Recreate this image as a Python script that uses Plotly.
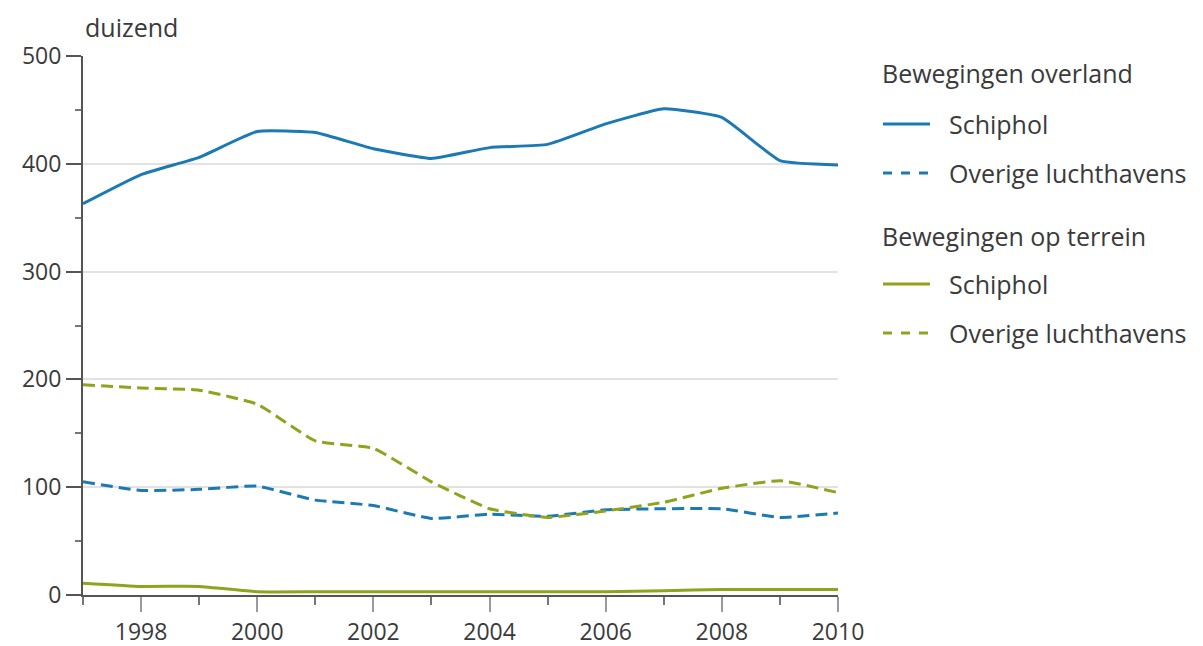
import plotly.graph_objects as go

years = list(range(1997, 2011))
overland_schiphol = [363, 390, 406, 430, 429, 414, 405, 415, 418, 437, 451, 443, 403, 399]
overland_overige = [105, 97, 98, 101, 88, 83, 71, 75, 73, 79, 80, 80, 72, 76]
terrein_schiphol = [11, 8, 8, 3, 3, 3, 3, 3, 3, 3, 4, 5, 5, 5]
terrein_overige = [195, 192, 190, 177, 143, 136, 105, 80, 72, 78, 86, 99, 106, 95]

group_titles = ["Bewegingen overland", "Bewegingen op terrein"]
series_names = ["Schiphol", "Overige luchthavens"]

BLUE = "#1b7ab3"
GREEN = "#8fa31c"
TEXT = "#3a3a3a"
FONT = "Open Sans"
TXT_SIZE = 25
TICK_SIZE = 23

series = [
    (overland_schiphol, BLUE, "solid", 0, 0),
    (overland_overige, BLUE, "12px,6px", 0, 1),
    (terrein_schiphol, GREEN, "solid", 1, 0),
    (terrein_overige, GREEN, "12px,6px", 1, 1),
]

fig = go.Figure()
for vals, col, dash, g, s in series:
    fig.add_trace(go.Scatter(
        x=years, y=vals, mode="lines",
        name=f"{group_titles[g]} - {series_names[s]}",
        line=dict(color=col, width=3, dash=dash, shape="spline", smoothing=0.4),
        showlegend=False, cliponaxis=False,
    ))

# plot area in pixels
W, H = 1203, 646
L, R, T, B = 83, 365, 56, 51
pw, ph = W - L - R, H - T - B

def px(x):
    return (x - L) / pw

def py(y):
    return (H - B - y) / ph

annotations = [dict(
    text="duizend", x=px(83), y=py(27), xref="paper", yref="paper",
    xanchor="left", yanchor="middle", showarrow=False,
    font=dict(size=TXT_SIZE, color=TEXT, family=FONT),
)]
shapes = []

# manual legend
legend_rows = [
    ("title", 0, 73),
    ("item", 0, 124),
    ("item", 1, 173),
    ("title", 1, 236),
    ("item", 2, 284),
    ("item", 3, 333),
]
for kind, idx, ypix in legend_rows:
    if kind == "title":
        annotations.append(dict(
            text=group_titles[idx], x=px(880), y=py(ypix), xref="paper", yref="paper",
            xanchor="left", yanchor="middle", showarrow=False,
            font=dict(size=TXT_SIZE, color=TEXT, family=FONT),
        ))
    else:
        vals, col, dash, g, s = series[idx]
        shapes.append(dict(
            type="line", xref="paper", yref="paper",
            x0=px(883), x1=px(930), y0=py(ypix), y1=py(ypix),
            line=dict(color=col, width=3, dash="dash" if dash != "solid" else "solid"),
        ))
        annotations.append(dict(
            text=series_names[s], x=px(947), y=py(ypix), xref="paper", yref="paper",
            xanchor="left", yanchor="middle", showarrow=False,
            font=dict(size=TXT_SIZE, color=TEXT, family=FONT),
        ))

fig.update_layout(
    width=W, height=H,
    margin=dict(l=L, r=R, t=T, b=B, autoexpand=False),
    plot_bgcolor="white", paper_bgcolor="white",
    font=dict(family=FONT, size=TICK_SIZE, color=TEXT),
    annotations=annotations, shapes=shapes,
    showlegend=False,
)
fig.update_xaxes(
    range=[1997, 2010], tick0=1998, dtick=2, automargin=False,
    ticks="outside", ticklen=15, tickwidth=2, tickcolor="#9a9a9a",
    showline=True, linecolor="#555555", linewidth=2,
    showgrid=False, zeroline=False,
    tickfont=dict(size=TICK_SIZE, color=TEXT),
    minor=dict(dtick=1, tick0=1997, ticks="outside", ticklen=8, tickcolor="#777777", tickwidth=1.5, showgrid=False),
)
fig.update_yaxes(
    range=[0, 500], tick0=0, dtick=100, automargin=False,
    ticks="outside", ticklen=15, tickwidth=1.5, tickcolor="#555555",
    showline=True, linecolor="#555555", linewidth=2,
    showgrid=True, gridcolor="#e2e2e2", gridwidth=1.5,
    zeroline=False,
    tickfont=dict(size=TICK_SIZE, color=TEXT),
    minor=dict(dtick=50, ticks="outside", ticklen=6, tickcolor="#777777", tickwidth=1.5, showgrid=False),
)

fig.write_html(
    "out.html",
    config={"displayModeBar": False},
    post_script="document.body.style.margin='0';document.body.style.overflow='hidden';",
)
